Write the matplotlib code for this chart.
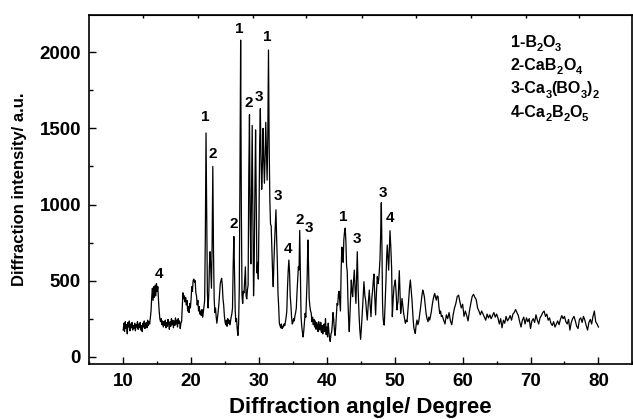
import numpy as np
import matplotlib
matplotlib.use('Agg')
import matplotlib.pyplot as plt
import matplotlib.transforms as mtransforms
from matplotlib.font_manager import FontProperties
from matplotlib.ticker import MultipleLocator

# XRD pattern (2theta in degrees, intensity in a.u.)
bg_a_x = [10.0, 10.1, 10.2, 10.3, 10.4, 10.5, 10.6, 10.7, 10.8, 10.9,
          11.0, 11.1, 11.2, 11.3, 11.4, 11.5, 11.6, 11.7, 11.8, 11.9,
          12.0, 12.1, 12.2, 12.3, 12.4, 12.5, 12.6, 12.7, 12.8, 12.9,
          13.0, 13.1, 13.2, 13.3, 13.4, 13.5, 13.6, 13.7, 13.8, 13.9,
          14.0]
bg_a_y = [175, 220, 165, 230, 185, 210, 150, 225, 195, 235,
          170, 215, 190, 225, 175, 205, 185, 220, 170, 210,
          195, 230, 180, 215, 190, 225, 175, 205, 165, 220,
          195, 235, 185, 210, 225, 190, 240, 205, 230, 215,
          260]

peak4_x = [14.1, 14.2, 14.3, 14.4, 14.5, 14.6, 14.7, 14.8, 14.9, 15.0,
           15.1, 15.2, 15.3, 15.4, 15.5]
peak4_y = [300, 390, 450, 370, 460, 390, 470, 400, 480, 430,
           460, 370, 300, 250, 230]

bg_b_x = [15.6, 15.7, 15.8, 15.9, 16.0, 16.1, 16.2, 16.3, 16.4, 16.5,
          16.6, 16.7, 16.8, 16.9, 17.0, 17.1, 17.2, 17.3, 17.4, 17.5,
          17.6, 17.7, 17.8, 17.9, 18.0, 18.1, 18.2, 18.3, 18.4, 18.5]
bg_b_y = [250, 210, 235, 195, 230, 205, 240, 190, 225, 200,
          245, 215, 180, 230, 200, 250, 210, 240, 190, 235,
          205, 255, 215, 240, 195, 250, 220, 235, 185, 220]

hump_x = [18.6, 18.7, 18.8, 18.9, 19.0, 19.1, 19.2, 19.3, 19.4, 19.5,
          19.6, 19.7, 19.8, 19.9, 20.0, 20.1, 20.2, 20.3, 20.4, 20.5,
          20.6, 20.7, 20.8, 20.9, 21.0, 21.1, 21.2, 21.3, 21.4, 21.5,
          21.6, 21.7, 21.8, 21.9]
hump_y = [230, 330, 420, 380, 400, 360, 390, 340, 370, 300,
          330, 290, 350, 320, 380, 460, 430, 500, 510, 490,
          500, 420, 400, 340, 370, 300, 330, 280, 300, 270,
          310, 260, 290, 330]

peaks22_x = [22.0, 22.1, 22.2, 22.3, 22.4, 22.5, 22.6, 22.7, 22.8, 22.9,
             23.0, 23.1, 23.2, 23.3, 23.4, 23.5, 23.6, 23.7, 23.8, 23.9,
             24.0, 24.1, 24.2, 24.3, 24.4, 24.5, 24.6, 24.7, 24.8, 24.9,
             25.0, 25.1, 25.2, 25.3, 25.4, 25.5, 25.6, 25.7, 25.8, 25.9,
             26.0, 26.1, 26.2, 26.3, 26.4, 26.5, 26.6, 26.7, 26.8, 26.9]
peaks22_y = [370, 800, 1470, 900, 420, 320, 400, 600, 690, 560,
             450, 750, 1250, 700, 380, 290, 320, 260, 220, 260,
             300, 350, 420, 480, 500, 515, 470, 380, 340, 270,
             230, 210, 240, 200, 250, 220, 240, 210, 230, 260,
             280, 320, 600, 790, 560, 300, 230, 250, 180, 140]

cluster_x = [27.0, 27.1, 27.2, 27.3, 27.4, 27.5, 27.6, 27.7, 27.8, 27.9,
             28.0, 28.1, 28.2, 28.3, 28.4, 28.5, 28.6, 28.7, 28.8, 28.9,
             29.0, 29.1, 29.2, 29.3, 29.4, 29.5, 29.6, 29.7, 29.8, 29.9,
             30.0, 30.1, 30.2, 30.3, 30.4, 30.5, 30.6, 30.7, 30.8, 30.9,
             31.0, 31.1, 31.2, 31.3, 31.4, 31.5, 31.6, 31.7, 31.8, 31.9,
             32.0, 32.1, 32.2, 32.3, 32.4, 32.5, 32.6, 32.7, 32.8, 32.9]
cluster_y = [220, 450, 1200, 2080, 1000, 400, 350, 430, 420, 500,
             590, 400, 380, 440, 470, 1200, 1590, 900, 610, 1100,
             1520, 1000, 400, 600, 1100, 1490, 1000, 550, 620, 510,
             900, 1400, 1630, 1300, 1100, 1250, 1500, 1300, 1140, 1300,
             1540, 1350, 1160, 1450, 2015, 1400, 1030, 870, 860, 700,
             560, 460, 620, 750, 850, 965, 780, 630, 420, 330]

peaks34_x = [33.0, 33.1, 33.2, 33.3, 33.4, 33.5, 33.6, 33.7, 33.8, 33.9,
             34.0, 34.1, 34.2, 34.3, 34.4, 34.5, 34.6, 34.7, 34.8, 34.9,
             35.0, 35.1, 35.2, 35.3, 35.4, 35.5, 35.6, 35.7, 35.8, 35.9,
             36.0, 36.1, 36.2, 36.3, 36.4, 36.5, 36.6, 36.7, 36.8, 36.9,
             37.0, 37.1, 37.2, 37.3, 37.4, 37.5, 37.6]
peaks34_y = [220, 205, 190, 215, 185, 200, 195, 215, 205, 230,
             260, 300, 450, 560, 635, 560, 400, 340, 260, 215,
             225, 250, 235, 270, 290, 320, 420, 500, 590, 570,
             830, 520, 260, 200, 160, 130, 170, 230, 285, 260,
             400, 520, 767, 600, 380, 330, 300]

mid_x = [37.7, 37.8, 37.9, 38.0, 38.1, 38.2, 38.3, 38.4, 38.5, 38.6,
         38.7, 38.8, 38.9, 39.0, 39.1, 39.2, 39.3, 39.4, 39.5, 39.6,
         39.7, 39.8, 39.9, 40.0, 40.1, 40.2, 40.3, 40.4, 40.5, 40.6,
         40.7, 40.8, 40.9, 41.0, 41.1, 41.2, 41.3, 41.4, 41.5, 41.6,
         41.7, 41.8, 41.9, 42.0, 42.1, 42.2, 42.3, 42.4, 42.5, 42.6,
         42.7, 42.8, 42.9, 43.0, 43.1, 43.2, 43.3]
mid_y = [285, 230, 260, 210, 245, 195, 235, 180, 225, 200,
         165, 230, 195, 175, 225, 160, 205, 150, 195, 215,
         165, 250, 145, 195, 130, 220, 165, 120, 100, 150,
         160, 210, 290, 250, 180, 140, 190, 270, 350, 340,
         410, 430, 360, 300, 560, 720, 700, 620, 770, 820,
         845, 760, 600, 560, 380, 250, 165]

peaks48_x = [43.45, 43.6, 43.7, 43.8, 43.9, 44.04, 44.15, 44.28, 44.38, 44.48,
             44.6, 44.73, 44.85, 44.97, 45.1, 45.27, 45.37, 45.46, 45.6, 45.71,
             45.83, 45.95, 46.1, 46.25, 46.37, 46.5, 46.62, 46.74, 46.84, 46.94,
             47.05, 47.18, 47.3, 47.43, 47.53, 47.63, 47.72, 47.82, 47.92, 48.02,
             48.12, 48.2, 48.27, 48.37, 48.46, 48.58, 48.71, 48.8, 48.9, 49.0,
             49.1, 49.2, 49.3, 49.42, 49.54, 49.64, 49.77, 49.89, 50.0,
             50.08, 50.2, 50.33, 50.4, 50.48, 50.57, 50.67, 50.77, 50.87, 50.97,
             51.07, 51.2, 51.31, 51.44, 51.56, 51.68, 51.81, 51.93, 52.05, 52.17,
             52.3, 52.42, 52.54, 52.66, 52.79, 52.91, 53.03, 53.15, 53.28, 53.4,
             53.53, 53.68, 53.82, 53.97, 54.12, 54.24, 54.36, 54.5, 54.61, 54.75,
             54.9, 55.02, 55.15, 55.27, 55.39, 55.52, 55.64, 55.77, 55.89, 56.0,
             56.13, 56.25, 56.38, 56.5, 56.62, 56.75, 56.87]
peaks48_y = [330, 504, 430, 394, 480, 569, 450, 350, 520, 690,
             450, 285, 180, 114, 200, 329, 420, 493, 400, 372,
             300, 241, 350, 438, 340, 263, 380, 438, 500, 543,
             400, 274, 420, 526, 480, 504, 560, 635, 800, 1012,
             700, 350, 263, 215, 208, 350, 504, 650, 734, 650,
             569, 700, 828, 720, 580, 263, 380, 460, 480,
             504, 420, 307, 340, 361, 450, 565, 420, 285, 330,
             383, 330, 285, 250, 219, 240, 230, 300, 372, 450,
             504, 440, 372, 280, 197, 170, 153, 210, 241, 210,
             230, 280, 329, 390, 438, 420, 394, 330, 285, 250,
             230, 260, 241, 270, 296, 340, 372, 400, 416, 390,
             372, 400, 394, 330, 285, 300, 263]

tail_x = [57.0, 57.2, 57.4, 57.6, 57.8, 58.0, 58.2, 58.4, 58.6, 58.8,
          59.0, 59.2, 59.4, 59.6, 59.8, 60.0, 60.2, 60.4, 60.6, 60.8,
          61.0, 61.2, 61.4, 61.6, 61.8, 62.0, 62.2, 62.4, 62.6, 62.8,
          63.0, 63.2, 63.4, 63.6, 63.8, 64.0, 64.2, 64.4, 64.6, 64.8,
          65.0, 65.2, 65.4, 65.6, 65.8, 66.0, 66.2, 66.4, 66.6, 66.8,
          67.0, 67.2, 67.4, 67.6, 67.8, 68.0, 68.2, 68.4, 68.6, 68.8,
          69.0, 69.2, 69.4, 69.6, 69.8, 70.0, 70.2, 70.4, 70.6, 70.8,
          71.0, 71.2, 71.4, 71.6, 71.8, 72.0, 72.2, 72.4, 72.6, 72.8,
          73.0, 73.2, 73.4, 73.6, 73.8, 74.0, 74.2, 74.4, 74.6, 74.8,
          75.0, 75.2, 75.4, 75.6, 75.8, 76.0, 76.2, 76.4, 76.6, 76.8,
          77.0, 77.2, 77.4, 77.6, 77.8, 78.0, 78.2, 78.4, 78.6, 78.8,
          79.0, 79.2, 79.4, 79.6, 79.8, 80.0]
tail_y = [270, 240, 215, 275, 250, 290, 235, 210, 275, 320,
          350, 395, 405, 360, 320, 345, 265, 300, 270, 235,
          300, 350, 395, 410, 390, 375, 320, 300, 275, 300,
          280, 260, 240, 280, 255, 275, 250, 270, 290, 260,
          280, 255, 215, 250, 190, 240, 220, 265, 235, 250,
          270, 240, 280, 290, 310, 290, 270, 230, 195, 240,
          260, 215, 255, 230, 250, 185, 235, 250, 225, 275,
          240, 215, 255, 270, 290, 300, 265, 280, 240, 255,
          220, 205, 230, 195, 215, 235, 210, 245, 270, 250,
          265, 230, 215, 245, 175, 225, 250, 265, 235, 200,
          185, 245, 255, 225, 265, 240, 205, 175, 225, 245,
          215, 265, 300, 230, 215, 195]

angle = np.concatenate([bg_a_x, peak4_x, bg_b_x, hump_x, peaks22_x,
                        cluster_x, peaks34_x, mid_x, peaks48_x, tail_x])
counts = np.concatenate([bg_a_y, peak4_y, bg_b_y, hump_y, peaks22_y,
                         cluster_y, peaks34_y, mid_y, peaks48_y, tail_y])

# phase numbers written over the peaks
mark_x = [15.2, 22.15, 23.25, 26.35, 27.1, 28.45, 30.05, 31.2, 32.8,
          34.3, 36.05, 37.35, 42.4, 44.5, 48.2, 49.3]
mark_y = [545, 1575, 1335, 875, 2155, 1665, 1705, 2100, 1058,
          705, 900, 843, 920, 773, 1078, 910]
mark_txt = ['4', '1', '2', '2', '1', '2', '3', '1', '3',
            '4', '2', '3', '1', '3', '3', '4']

# phase key, split into (text, is_subscript) pieces
phase_1 = [('1-B', 0), ('2', 1), ('O', 0), ('3', 1)]
phase_2 = [('2-CaB', 0), ('2', 1), ('O', 0), ('4', 1)]
phase_3 = [('3-Ca', 0), ('3', 1), ('(BO', 0), ('3', 1), (')', 0), ('2', 1)]
phase_4 = [('4-Ca', 0), ('2', 1), ('B', 0), ('2', 1), ('O', 0), ('5', 1)]
phase_y = [2037, 1884, 1731, 1578]

top_ticks = [12.9, 21.0, 29.1, 37.0, 45.2, 53.2, 61.2, 69.3, 77.2]

plt.rcParams['font.family'] = 'Liberation Sans'
plt.rcParams['font.weight'] = 'bold'

fig = plt.figure(figsize=(6.33, 4.19), dpi=100)
ax = fig.add_axes([0.141, 0.1305, 0.858, 0.8337])

ax.plot(angle, counts, color='black', lw=0.9)

for x, y, t in zip(mark_x, mark_y, mark_txt):
    ax.text(x, y, t, ha='center', va='center', fontsize=11, fontweight='bold')

# key text: place each piece after the previous one, subscripts dropped
renderer = fig.canvas.get_renderer()
for parts, y in zip([phase_1, phase_2, phase_3, phase_4], phase_y):
    dx = 0.0
    for txt, sub in parts:
        size = 8 if sub else 11.5
        fp = FontProperties(family='Liberation Sans', weight='bold', size=size)
        off = mtransforms.ScaledTranslation(dx / 72, (-3.2 if sub else 0) / 72,
                                            fig.dpi_scale_trans)
        ax.text(67.05, y, txt, fontproperties=fp, ha='left', va='baseline',
                transform=ax.transData + off)
        w, h, d = renderer.get_text_width_height_descent(txt, fp, ismath=False)
        dx += w * 72 / fig.dpi

ax.set_xlim(5, 85)
ax.set_ylim(-50, 2245)
ax.xaxis.set_major_locator(MultipleLocator(10))
ax.xaxis.set_minor_locator(MultipleLocator(5))
ax.yaxis.set_major_locator(MultipleLocator(500))
ax.yaxis.set_minor_locator(MultipleLocator(250))
ax.tick_params(which='both', direction='in', width=1, labelsize=13.5, pad=6)
ax.tick_params(axis='x', which='major', length=5)
ax.tick_params(axis='x', which='minor', length=2)
ax.tick_params(axis='y', which='major', length=5)
ax.tick_params(axis='y', which='minor', length=3)
for s in ax.spines.values():
    s.set_linewidth(1.2)

top = ax.secondary_xaxis('top')
top.set_xticks(top_ticks)
top.set_xticklabels([])
top.tick_params(direction='in', length=2.5, width=1)
top.xaxis.set_minor_locator(MultipleLocator(1000))

ax.set_xlabel('Diffraction angle/ Degree', fontsize=16, fontweight='bold', labelpad=5)
ax.set_ylabel('Diffraction intensity/ a.u.', fontsize=12, fontweight='bold', labelpad=9)

fig.savefig('out.png', dpi=100)
